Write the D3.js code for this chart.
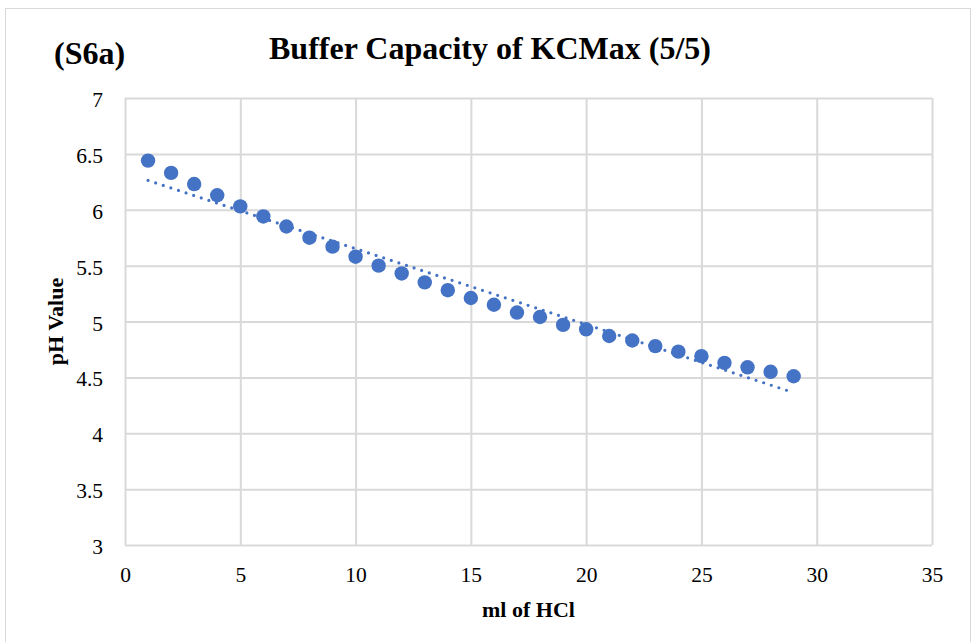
<!DOCTYPE html>
<html>
<head>
<meta charset="utf-8">
<script src="https://cdn.jsdelivr.net/npm/d3@7"></script>
<style>
  body { margin: 0; background: #fff; }
  text { font-family: "Liberation Serif", "Times New Roman", serif; }
</style>
</head>
<body>
<div id="chart"></div>
<script>
// ml of HCl added
var mlHCl = [1, 2, 3, 4, 5, 6, 7, 8, 9, 10, 11, 12, 13, 14, 15, 16, 17, 18, 19, 20, 21, 22, 23, 24, 25, 26, 27, 28, 29];
// measured pH
var phValues = [6.44, 6.33, 6.23, 6.13, 6.03, 5.94, 5.85, 5.75, 5.67, 5.58, 5.50, 5.43, 5.35, 5.28, 5.21, 5.15, 5.08, 5.04, 4.97, 4.93, 4.87, 4.83, 4.78, 4.73, 4.69, 4.63, 4.59, 4.55, 4.51];
var xTicks = [0, 5, 10, 15, 20, 25, 30, 35];
var yTicks = [3, 3.5, 4, 4.5, 5, 5.5, 6, 6.5, 7];

var W = 973, H = 642;
var margin = {top: 98, right: 41, bottom: 97, left: 125},
    width = W - margin.left - margin.right,
    height = H - margin.top - margin.bottom;

var svg = d3.select("#chart").append("svg")
  .attr("width", W).attr("height", H);

// outer chart border
svg.append("rect").attr("x", 5.5).attr("y", 8.5).attr("width", W - 8).attr("height", H - 8)
  .attr("fill", "#fff").attr("stroke", "#d9d9d9");

var g = svg.append("g").attr("transform", "translate(" + margin.left + "," + margin.top + ")");

var x = d3.scaleLinear().domain([0, 35]).range([0, width]);
var y = d3.scaleLinear().domain([3, 7]).range([height, 0]);

// gridlines + tick labels
var xAxis = d3.axisBottom(x).tickValues(xTicks).tickSize(-height).tickPadding(22).tickFormat(d3.format("d"));
var yAxis = d3.axisLeft(y).tickValues(yTicks).tickSize(-width).tickPadding(22).tickFormat(function(d){ return String(d); });

var xg = g.append("g").attr("transform", "translate(0," + height + ")").call(xAxis);
var yg = g.append("g").call(yAxis);
[xg, yg].forEach(function(a){
  a.select(".domain").remove();
  a.selectAll("line").attr("stroke", "#d9d9d9").attr("stroke-width", 2);
  a.selectAll("text").attr("fill", "#000").attr("font-size", "21.5px")
    .style("font-family", "'Liberation Serif', serif");
});
yg.selectAll("text").attr("dy", "0.4em");

// linear trendline (least squares fit of the data)
var n = mlHCl.length,
    mx = d3.mean(mlHCl), my = d3.mean(phValues);
var sxy = d3.sum(mlHCl, function(v, i){ return (v - mx) * (phValues[i] - my); });
var sxx = d3.sum(mlHCl, function(v){ return (v - mx) * (v - mx); });
var slope = sxy / sxx, icpt = my - slope * mx;
var xs = [mlHCl[0], mlHCl[n - 1]];

g.append("path")
  .attr("d", d3.line().x(function(d){ return x(d); }).y(function(d){ return y(icpt + slope * d); })(xs))
  .attr("fill", "none").attr("stroke", "#4472c4").attr("stroke-width", 3.2)
  .attr("stroke-linecap", "round").attr("stroke-dasharray", "0 8");

// data points
g.selectAll("circle.pt").data(mlHCl).enter().append("circle")
  .attr("class", "pt")
  .attr("cx", function(d){ return x(d); })
  .attr("cy", function(d, i){ return y(phValues[i]); })
  .attr("r", 7.2)
  .attr("fill", "#4472c4");

// titles
svg.append("text").attr("x", 490).attr("y", 59).attr("text-anchor", "middle")
  .attr("font-size", "32px").attr("font-weight", "bold").text("Buffer Capacity of KCMax (5/5)");
svg.append("text").attr("x", 54).attr("y", 64)
  .attr("font-size", "32px").attr("font-weight", "bold").text("(S6a)");
svg.append("text").attr("x", margin.left + width / 2).attr("y", 617).attr("text-anchor", "middle")
  .attr("font-size", "22px").attr("font-weight", "bold").text("ml of HCl");
svg.append("text").attr("transform", "translate(63," + (margin.top + height / 2) + ") rotate(-90)")
  .attr("text-anchor", "middle")
  .attr("font-size", "22px").attr("font-weight", "bold").text("pH Value");
</script>
</body>
</html>
